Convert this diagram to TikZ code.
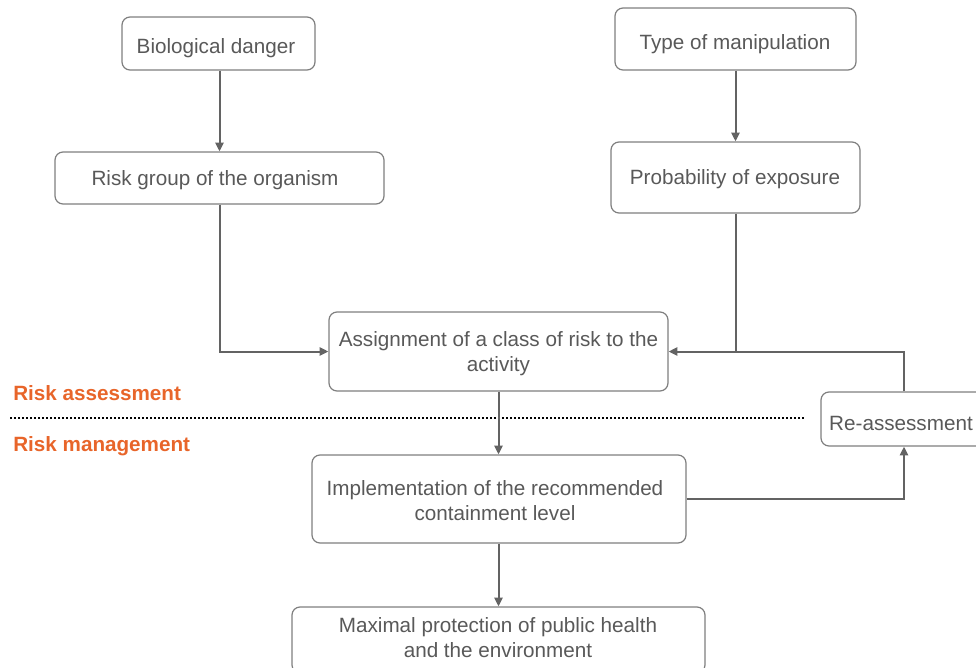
\documentclass[tikz,border=0pt]{standalone}
\usepackage{fontspec}
\setmainfont{Liberation Sans}
\usetikzlibrary{arrows.meta}
\definecolor{txtgray}{HTML}{595959}
\definecolor{linegray}{HTML}{636363}
\definecolor{boxgray}{HTML}{7F7F7F}
\definecolor{orangelab}{HTML}{E8652A}
\begin{document}
\begin{tikzpicture}[x=0.75pt,y=-0.75pt,
  box/.style={draw=boxgray, line width=0.9pt, rounded corners=6pt, fill=white, inner sep=0pt},
  txt/.style={text=txtgray, align=center, inner sep=0pt,
    font=\fontsize{15.5}{18.75}\selectfont},
  conn/.style={draw=linegray, line width=1.5pt},
  arr/.style={conn, -{Triangle[length=6.5pt,width=6pt]}},
  lab/.style={text=orangelab, font=\fontsize{15.5}{18.75}\selectfont\bfseries, anchor=west, inner sep=0pt}]
\useasboundingbox (0,0) rectangle (976,668);
% boxes
\node[box, minimum width=193*0.75pt, minimum height=53*0.75pt] (bio) at (218.5,43.5) {};
\node[box, minimum width=241*0.75pt, minimum height=62*0.75pt] (type) at (735.5,39) {};
\node[box, minimum width=329*0.75pt, minimum height=52*0.75pt] (rg) at (219.5,178) {};
\node[box, minimum width=249*0.75pt, minimum height=71*0.75pt] (prob) at (735.5,177.5) {};
\node[box, minimum width=339*0.75pt, minimum height=79*0.75pt] (assign) at (498.5,351.5) {};
\node[box, minimum width=166*0.75pt, minimum height=54*0.75pt] (reas) at (904,419) {};
\node[box, minimum width=374*0.75pt, minimum height=88*0.75pt] (impl) at (499,499) {};
\node[box, minimum width=413*0.75pt, minimum height=66*0.75pt] (max) at (498.5,640) {};
% box texts
\node[txt] (biot) at (216,48.5) {Biological danger};
\node[txt] (typet) at (735,44) {Type of manipulation};
\node[txt] (rgt) at (215,180) {Risk group of the organism};
\node[txt] (probt) at (735,179.5) {Probability of exposure};
\node[txt] (assignt) at (498.5,354) {Assignment of a class of risk to the\\activity};
\node[txt] (reast) at (901,423) {Re-assessment};
\node[txt] (implt) at (495,501) {Implementation of the recommended\\containment level};
\node[txt] (maxt) at (498,638) {Maximal protection of public health\\and the environment};
% labels
\node[lab] (ra) at (13,393) {Risk assessment};
\node[lab] (rm) at (13,446.5) {Risk management};
\coordinate (dl) at (10,418);
\coordinate (dr) at (805,418);
\draw[black, line width=1.2pt, dash pattern=on 1.2pt off 1.8pt] (dl) -- (dr);
% connectors
\draw[arr] (bio.south -| rg.north) -- (rg.north);
\draw[arr] (type.south) -- (prob.north);
\draw[arr] (rg.south) |- (assign.west);
\draw[arr] (prob.south) |- (assign.east);
\draw[conn] (reas.north) |- (prob.south |- assign.east);
\draw[arr] (assign.south) -- (assign.south |- impl.north);
\draw[arr] (impl.east) -| (reas.south);
\draw[arr] (impl.south -| assign.south) -- (assign.south |- max.north);
\end{tikzpicture}
\end{document}
